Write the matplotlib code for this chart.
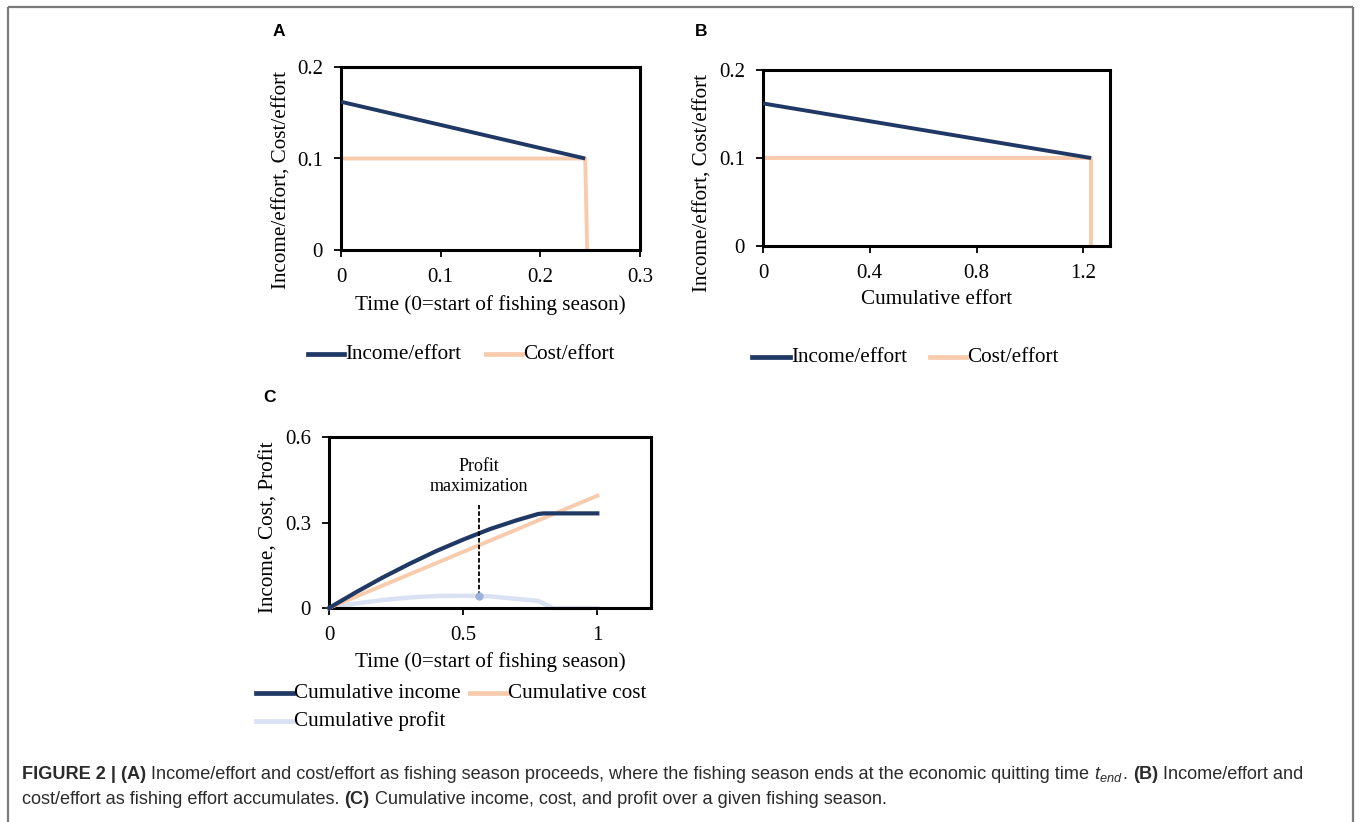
import matplotlib
matplotlib.use("Agg")
import matplotlib.pyplot as plt
from matplotlib.lines import Line2D

# ---------------- data ----------------
# Panel A: per-effort values vs time
a_time_income = [0.0, 0.245]
a_income = [0.162, 0.100]
a_time_cost = [0.0, 0.245, 0.247]
a_cost = [0.100, 0.100, 0.0]
a_xticks = [0, 0.1, 0.2, 0.3]
a_yticks = [0, 0.1, 0.2]

# Panel B: per-effort values vs cumulative effort
b_effort_income = [0.0, 1.229]
b_income = [0.162, 0.100]
b_effort_cost = [0.0, 1.229, 1.229]
b_cost = [0.100, 0.100, 0.0]
b_xticks = [0, 0.4, 0.8, 1.2]
b_yticks = [0, 0.1, 0.2]

# Panel C: cumulative values vs time
c_time = [0.0, 0.1, 0.2, 0.3, 0.4, 0.5, 0.6, 0.7, 0.78, 0.8, 0.9, 1.0]
c_income = [0.0, 0.055, 0.107, 0.155, 0.200, 0.240, 0.277, 0.308, 0.330, 0.332, 0.332, 0.332]
c_cost_time = [0.0, 1.0]
c_cost = [0.0, 0.394]
c_profit_time = [0.0, 0.1, 0.2, 0.3, 0.4, 0.5, 0.6, 0.7, 0.78, 0.835, 0.9, 1.0]
c_profit = [0.0, 0.016, 0.028, 0.037, 0.042, 0.043, 0.041, 0.032, 0.025, 0.0, 0.0, 0.0]
c_max_time = 0.558
c_max_profit = 0.041
c_dash_top = 0.36
c_xticks = [0, 0.5, 1]
c_yticks = [0, 0.3, 0.6]

labels_ab = ["Income/effort", "Cost/effort"]
labels_c = ["Cumulative income", "Cumulative cost", "Cumulative profit"]

NAVY = "#1f3864"
PEACH = "#f8cbad"
LBLUE = "#d9e1f2"
MARK = "#9bb3dd"

W, H = 1360, 822
SERIF = "Liberation Serif"
SANS = "Liberation Sans"
FS = 15.2
TFS = 15.0

fig = plt.figure(figsize=(W / 100, H / 100), dpi=100)
fig.patch.set_facecolor("white")


def fx(x):
    return x / W


def fy(y):
    return 1 - y / H


def add_axes(l, t, r, b):
    return fig.add_axes([fx(l), fy(b), fx(r - l), (b - t) / H])


def style(ax, xlim, ylim, xt, yt, xfmt, yfmt):
    ax.set_xlim(*xlim)
    ax.set_ylim(*ylim)
    ax.set_xticks(xt)
    ax.set_yticks(yt)
    ax.set_xticklabels([xfmt(v) for v in xt], fontfamily=SERIF, fontsize=TFS)
    ax.set_yticklabels([yfmt(v) for v in yt], fontfamily=SERIF, fontsize=TFS)
    for s in ax.spines.values():
        s.set_linewidth(2.2)
        s.set_color("black")
    ax.tick_params(direction="out", length=5, width=1.3, color="black", pad=8)


def fmt(v):
    if v == 0:
        return "0"
    return ("%g" % v)


# ---------- Panel A ----------
axA = add_axes(341, 67, 640, 250)
axA.plot(a_time_income, a_income, color=NAVY, lw=2.8, solid_capstyle="butt", zorder=3)
axA.plot(a_time_cost, a_cost, color=PEACH, lw=2.8, solid_capstyle="butt", zorder=2, clip_on=False)
style(axA, (0, 0.3), (0, 0.2), a_xticks, a_yticks, fmt, fmt)

# ---------- Panel B ----------
axB = add_axes(763, 70, 1110, 246)
axB.plot(b_effort_income, b_income, color=NAVY, lw=2.8, solid_capstyle="butt", zorder=3)
axB.plot(b_effort_cost, b_cost, color=PEACH, lw=2.8, solid_capstyle="butt", zorder=2, clip_on=False)
style(axB, (0, 1.3), (0, 0.2), b_xticks, b_yticks, fmt, fmt)

# ---------- Panel C ----------
axC = add_axes(329, 437, 651, 608)
axC.plot(c_profit_time, c_profit, color=LBLUE, lw=3.2, zorder=2, clip_on=False)
axC.plot(c_cost_time, c_cost, color=PEACH, lw=2.8, zorder=3, clip_on=False)
axC.plot(c_time, c_income, color=NAVY, lw=3.0, zorder=4, clip_on=False)
axC.plot([c_max_time, c_max_time], [c_max_profit, c_dash_top], color="black",
         lw=1.3, ls=(0, (2.5, 1.2)), zorder=5)
axC.plot([c_max_time], [c_max_profit], "o", color=MARK, ms=5, zorder=6)
axC.text(c_max_time, 0.495, "Profit", ha="center", va="center",
         fontfamily=SERIF, fontsize=13)
axC.text(c_max_time, 0.427, "maximization", ha="center", va="center",
         fontfamily=SERIF, fontsize=13)
style(axC, (0, 1.2), (0, 0.6), c_xticks, c_yticks, fmt, fmt)

# ---------- axis labels ----------
fig.text(fx(282), fy(180), "Income/effort, Cost/effort", rotation=90, ha="center",
         va="center", fontfamily=SERIF, fontsize=FS)
fig.text(fx(490), fy(305), "Time (0=start of fishing season)", ha="center", va="center",
         fontfamily=SERIF, fontsize=FS)
fig.text(fx(703), fy(183), "Income/effort, Cost/effort", rotation=90, ha="center",
         va="center", fontfamily=SERIF, fontsize=FS)
fig.text(fx(937), fy(300), "Cumulative effort", ha="center", va="center",
         fontfamily=SERIF, fontsize=FS)
fig.text(fx(269), fy(527), "Income, Cost, Profit", rotation=90, ha="center",
         va="center", fontfamily=SERIF, fontsize=FS)
fig.text(fx(490), fy(662), "Time (0=start of fishing season)", ha="center", va="center",
         fontfamily=SERIF, fontsize=FS)

# ---------- panel letters ----------
for letter, x, y in [("A", 279, 32), ("B", 701, 32), ("C", 270, 398)]:
    fig.text(fx(x), fy(y), letter, ha="center", va="center", fontfamily=SANS,
             fontsize=12.5, fontweight="bold")


# ---------- legends ----------
def legend_item(x0, x1, y, color, text, lw=3.4):
    fig.add_artist(Line2D([fx(x0), fx(x1)], [fy(y), fy(y)], color=color, lw=lw,
                          transform=fig.transFigure))
    fig.text(fx(x1 + 1), fy(y), text, ha="left", va="center", fontfamily=SERIF,
             fontsize=FS)


legend_item(308, 344, 354, NAVY, labels_ab[0])
legend_item(486, 522, 354, PEACH, labels_ab[1])
legend_item(752, 790, 357, NAVY, labels_ab[0])
legend_item(930, 966, 357, PEACH, labels_ab[1])
legend_item(256, 293, 693, NAVY, labels_c[0])
legend_item(470, 507, 693, PEACH, labels_c[1])
legend_item(256, 293, 721, LBLUE, labels_c[2])

# ---------- outer frame ----------
frame_kw = dict(color="#7a7a7a", lw=1.6, transform=fig.transFigure, solid_capstyle="butt")
fig.add_artist(Line2D([fx(8), fx(8)], [fy(7), fy(822)], **frame_kw))
fig.add_artist(Line2D([fx(1353), fx(1353)], [fy(7), fy(822)], **frame_kw))
fig.add_artist(Line2D([fx(8), fx(1353)], [fy(7), fy(7)], **frame_kw))

# ---------- caption ----------
plt.rcParams["mathtext.fontset"] = "custom"
plt.rcParams["mathtext.it"] = "Liberation Sans:italic"
plt.rcParams["mathtext.rm"] = "Liberation Sans"

CAP_FS = 13.1
CAP_COL = "#2b2b2b"
renderer = fig.canvas.get_renderer()


def run_line(y, parts, x_start=22):
    x = fx(x_start)
    for txt, bold in parts:
        t = fig.text(x, fy(y), txt, ha="left", va="baseline", fontfamily=SANS,
                     fontsize=CAP_FS, fontweight="bold" if bold else "normal",
                     color=CAP_COL)
        bb = t.get_window_extent(renderer=renderer)
        x += bb.width / W


run_line(779, [("FIGURE 2 | (A)", True),
               (" Income/effort and cost/effort as fishing season proceeds, where the fishing season ends at the economic quitting time ", False),
               (r"$t_{end}$", False), (". ", False), ("(B)", True),
               (" Income/effort and", False)])
run_line(804, [("cost/effort as fishing effort accumulates. ", False), ("(C)", True),
               (" Cumulative income, cost, and profit over a given fishing season.", False)])

fig.savefig("out.png", dpi=100)
